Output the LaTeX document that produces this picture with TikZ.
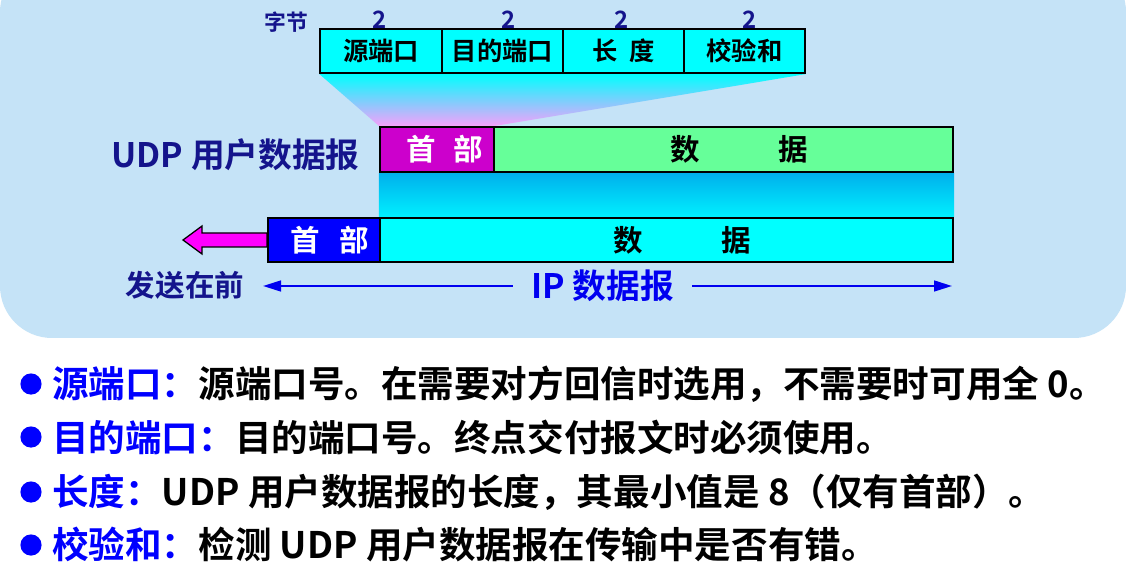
\documentclass[tikz,border=0pt]{standalone}
\usepackage{fontspec}
\setmainfont{Noto Sans CJK SC}[BoldFont={Noto Sans CJK SC Bold}]
\usetikzlibrary{arrows.meta}
\pgfdeclarelayer{bg}
\pgfsetlayers{bg,main}
\definecolor{panelblue}{RGB}{197,227,247}
\definecolor{fieldcyan}{RGB}{0,255,255}
\definecolor{trapmid}{RGB}{110,205,252}
\definecolor{trappink}{RGB}{245,160,250}
\definecolor{hdrpurple}{RGB}{204,0,204}
\definecolor{datagreen}{RGB}{102,255,153}
\definecolor{midblue}{RGB}{0,176,236}
\definecolor{midcyan}{RGB}{0,240,255}
\definecolor{arrowpink}{RGB}{255,0,255}
\definecolor{labelnavy}{RGB}{20,20,140}
\definecolor{iplblue}{RGB}{0,0,240}
\tikzset{
    box/.style={draw, line width=1.5pt, inner sep=0mm},
    field/.style={box, fill=fieldcyan, minimum width=3.03cm, minimum height=1.1cm, font=\bfseries\fontsize{18}{20}\selectfont},
    hdr/.style={box, text=white, font=\bfseries\fontsize{21}{24}\selectfont},
    dat/.style={box, font=\bfseries\fontsize{21}{24}\selectfont},
    bytes/.style={inner sep=0mm, text=labelnavy, font=\bfseries\fontsize{17}{19}\selectfont},
    navylabel/.style={inner sep=0mm, text=labelnavy, font=\bfseries\fontsize{24}{28}\selectfont},
    dot/.style={circle, fill=blue, inner sep=0mm, minimum size=0.53cm},
    bullet/.style={anchor=west, inner sep=0mm, font=\bfseries\fontsize{26}{30}\selectfont}
}

\begin{document}
\begin{tikzpicture}
        \useasboundingbox (0cm, 0cm) rectangle (28.15cm, -14.5cm);
        % UDP header fields
        \node (f0) [field] at (9.525cm, -1.275cm) {源端口};
        \node (f1) [field] at (12.5625cm, -1.275cm) {目的端口};
        \node (f2) [field] at (15.5875cm, -1.275cm) {长\hspace{0.45em}度};
        \node (f3) [field] at (18.6125cm, -1.275cm) {校验和};
        \node (n0) [bytes] at (9.5cm, -0.5cm) {2};
        \node (n1) [bytes] at (12.725cm, -0.5cm) {2};
        \node (n2) [bytes] at (15.55cm, -0.5cm) {2};
        \node (n3) [bytes] at (18.75cm, -0.5cm) {2};
        \node (unit) [bytes, font=\bfseries\fontsize{15.5}{17}\selectfont] at (7.15cm, -0.55cm) {字节};
        % datagrams
        \node (uh) [hdr, fill=hdrpurple, minimum width=2.85cm, minimum height=1.125cm] at (10.925cm, -3.7375cm) {\hspace{0.4cm}首\hspace{0.45cm}部};
        \node (ud) [dat, fill=datagreen, minimum width=11.475cm, minimum height=1.125cm] at (18.0875cm, -3.7375cm) {\hspace{0.8cm}数\hspace{1.95cm}据};
        \node (ih) [hdr, fill=blue, minimum width=2.8cm, minimum height=1.1cm] at (8.1cm, -6.0cm) {\hspace{0.3cm}首\hspace{0.5cm}部};
        \node (id) [dat, fill=fieldcyan, minimum width=14.325cm, minimum height=1.1cm] at (16.6625cm, -6.0cm) {\hspace{0.8cm}数\hspace{1.95cm}据};
        \node (udplabel) [navylabel, anchor=east] at (9.0cm, -3.875cm) {UDP 用户数据报};
        \node (sendfirst) [navylabel, font=\bfseries\fontsize{21}{24}\selectfont] at (4.625cm, -7.125cm) {发送在前};
        \node (iplabel) [navylabel, text=iplblue, inner xsep=0.45cm] at (15.0625cm, -7.15cm) {IP 数据报};
        \coordinate (ipleft) at (6.575cm, -7.15cm);
        \coordinate (ipright) at (23.8cm, -7.15cm);
        \coordinate (sendtip) at (4.575cm, -6.0cm);
        \draw [iplblue, line width=1.5pt, -{Triangle[length=0.45cm, width=0.27cm]}] (iplabel.west) -- (ipleft);
        \draw [iplblue, line width=1.5pt, -{Triangle[length=0.45cm, width=0.27cm]}] (iplabel.east) -- (ipright);
        \draw [fill=arrowpink, line width=0.9pt] ([yshift=0.175cm]ih.west) -- (5.05cm, -5.825cm) -- (5.05cm, -5.65cm) -- (sendtip) -- (5.05cm, -6.35cm) -- (5.05cm, -6.175cm) -- ([yshift=-0.175cm]ih.west) -- cycle;
        \begin{pgfonlayer}{bg}
                \fill[white] (0cm, 0cm) rectangle (28.15cm, -14.5cm);
                \fill[panelblue, rounded corners=1.3cm] (0cm, 1cm) -- (0cm, -8.45cm) -- (28.15cm, -8.45cm) -- (28.15cm, 1cm) -- cycle;
                \shade [top color=fieldcyan, middle color=trapmid, bottom color=trappink] (f0.south west) -- (f3.south east) -- (uh.north east) -- (uh.north west) -- cycle;
                \shade [top color=midblue, bottom color=midcyan] (uh.south west) rectangle (id.north east);
        \end{pgfonlayer}
        % field notes
        \node (d0) [dot] at (0.775cm, -9.6cm) {};
        \node (d1) [dot] at (0.775cm, -10.925cm) {};
        \node (d2) [dot] at (0.775cm, -12.3cm) {};
        \node (d3) [dot] at (0.775cm, -13.625cm) {};
        \node (b0) [bullet] at (1.3cm, -9.6cm) {\textcolor{blue}{源端口：}源端口号。在需要对方回信时选用，不需要时可用全 0。};
        \node (b1) [bullet] at (1.3cm, -10.925cm) {\textcolor{blue}{目的端口：}目的端口号。终点交付报文时必须使用。};
        \node (b2) [bullet] at (1.3cm, -12.3cm) {\textcolor{blue}{长度：}UDP 用户数据报的长度，其最小值是 8（仅有首部）。};
        \node (b3) [bullet] at (1.3cm, -13.625cm) {\textcolor{blue}{校验和：}检测 UDP 用户数据报在传输中是否有错。};
\end{tikzpicture}
\end{document}
